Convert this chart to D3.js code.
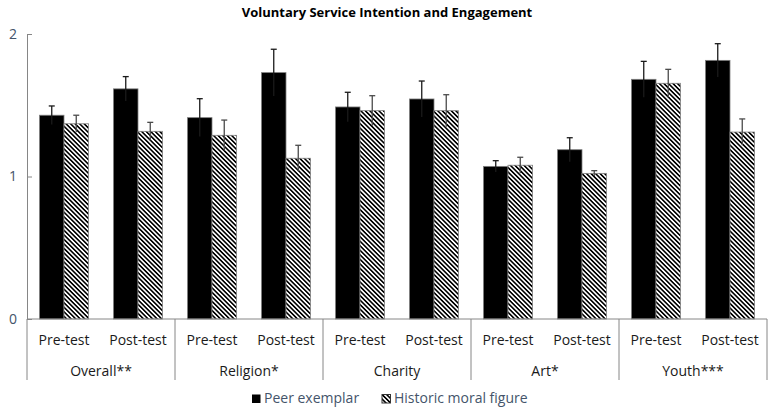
<!DOCTYPE html>
<html><head><meta charset="utf-8">
<script src="https://cdn.jsdelivr.net/npm/d3@7"></script>
<style>body{margin:0;background:#fff}svg{display:block}</style>
</head><body>
<svg id="c" width="771" height="411"></svg>
<script>
const categories = ["Overall**", "Religion*", "Charity", "Art*", "Youth***"];
const phases = ["Pre-test", "Post-test"];
const seriesNames = ["Peer exemplar", "Historic moral figure"];
// values ordered category-major: [cat0 pre, cat0 post, cat1 pre, ...]
const peerValues     = [1.43, 1.615, 1.413, 1.729, 1.488, 1.544, 1.071, 1.188, 1.682, 1.815];
const historicValues = [1.37, 1.317, 1.289, 1.128, 1.462, 1.462, 1.079, 1.022, 1.654, 1.312];
const peerErrors     = [0.065, 0.086, 0.133, 0.164, 0.103, 0.126, 0.040, 0.084, 0.126, 0.117];
const historicErrors = [0.060, 0.063, 0.107, 0.091, 0.105, 0.112, 0.056, 0.019, 0.098, 0.092];
const yTicks = [0, 1, 2];

const svg = d3.select("#c");
const L = 27, R = 767, T = 34, B = 319;
const axisColor = "#868686", labelBlue = "#44546a";
const font = "'Open Sans', sans-serif";

const defs = svg.append("defs");
const pat = defs.append("pattern").attr("id", "hatch").attr("patternUnits", "userSpaceOnUse")
  .attr("width", 3.2).attr("height", 3.2).attr("patternTransform", "rotate(-45)");
pat.append("rect").attr("width", 3.2).attr("height", 3.2).attr("fill", "#fff");
pat.append("rect").attr("x", 0).attr("width", 1.6).attr("height", 3.2).attr("fill", "#000");

const x0 = d3.scaleBand().domain(categories).range([L, R]);
const x1 = d3.scaleBand().domain(phases).range([0, x0.bandwidth()]);
const x2 = d3.scaleBand().domain(seriesNames).range([0, x1.bandwidth()]).paddingInner(0).paddingOuter(0.51);
const y = d3.scaleLinear().domain([0, 2]).range([B, T]);

// title
svg.append("text").attr("x", 387).attr("y", 17).attr("text-anchor", "middle")
  .attr("font-family", font).attr("font-weight", "bold").attr("font-size", 13).attr("fill", "#000")
  .text("Voluntary Service Intention and Engagement");

// y axis
const ya = svg.append("g").attr("transform", `translate(${L},0)`)
  .call(d3.axisLeft(y).tickValues(yTicks).tickFormat(d3.format("d")).tickSizeInner(-5).tickSizeOuter(0).tickPadding(10));
ya.select(".domain").attr("stroke", axisColor);
ya.selectAll(".tick line").attr("stroke", axisColor);
ya.selectAll(".tick text").attr("font-family", font).attr("font-size", 14).attr("fill", labelBlue);

// bars
const rows = [];
categories.forEach((c, ci) => phases.forEach((p, pi) => {
  const i = ci * 2 + pi;
  rows.push({c, p, s: seriesNames[0], v: peerValues[i], e: peerErrors[i]});
  rows.push({c, p, s: seriesNames[1], v: historicValues[i], e: historicErrors[i]});
}));
const bx = d => x0(d.c) + x1(d.p) + x2(d.s);
svg.append("g").selectAll("rect").data(rows).join("rect")
  .attr("x", bx).attr("width", x2.bandwidth())
  .attr("y", d => y(d.v)).attr("height", d => y(0) - y(d.v))
  .attr("fill", d => d.s === seriesNames[0] ? "#000" : "url(#hatch)")
  .attr("stroke", "#7f7f7f").attr("stroke-width", 0.8);

// error bars
const eb = svg.append("g").attr("stroke-width", 1.3);
rows.forEach(d => {
  const cx = bx(d) + x2.bandwidth() / 2;
  const col = d.s === seriesNames[0] ? "#1a1a1a" : "#4a4a4a";
  eb.append("line").attr("stroke", col).attr("x1", cx).attr("x2", cx).attr("y1", y(d.v - d.e)).attr("y2", y(d.v + d.e));
  eb.append("line").attr("stroke", col).attr("x1", cx - 3).attr("x2", cx + 3).attr("y1", y(d.v + d.e)).attr("y2", y(d.v + d.e));
});

// x axis
svg.append("line").attr("x1", L).attr("x2", R).attr("y1", B).attr("y2", B).attr("stroke", axisColor);
const sepX = categories.map(c => x0(c)).concat([R]);
svg.append("g").selectAll("line").data(sepX).join("line")
  .attr("x1", d => d).attr("x2", d => d).attr("y1", B).attr("y2", 380).attr("stroke", axisColor);
const xl = svg.append("g").attr("font-family", font).attr("font-size", 14).attr("fill", "#1a1a1a").attr("text-anchor", "middle");
categories.forEach(c => {
  phases.forEach(p => {
    xl.append("text").attr("x", x0(c) + x1(p) + x1.bandwidth() / 2).attr("y", 345).text(p);
  });
  xl.append("text").attr("x", x0(c) + x0.bandwidth() / 2).attr("y", 376).text(c);
});

// legend
const lg = svg.append("g").attr("font-family", font).attr("font-size", 14).attr("fill", labelBlue);
const legendX = [252, 382];
seriesNames.forEach((s, i) => {
  lg.append("rect").attr("x", legendX[i]).attr("y", 394.5).attr("width", 8.5).attr("height", 8.5)
    .attr("fill", i === 0 ? "#000" : "url(#hatch)").attr("stroke", i === 0 ? "none" : "#333");
  lg.append("text").attr("x", legendX[i] + 12).attr("y", 403).text(s);
});
</script>
</body></html>
